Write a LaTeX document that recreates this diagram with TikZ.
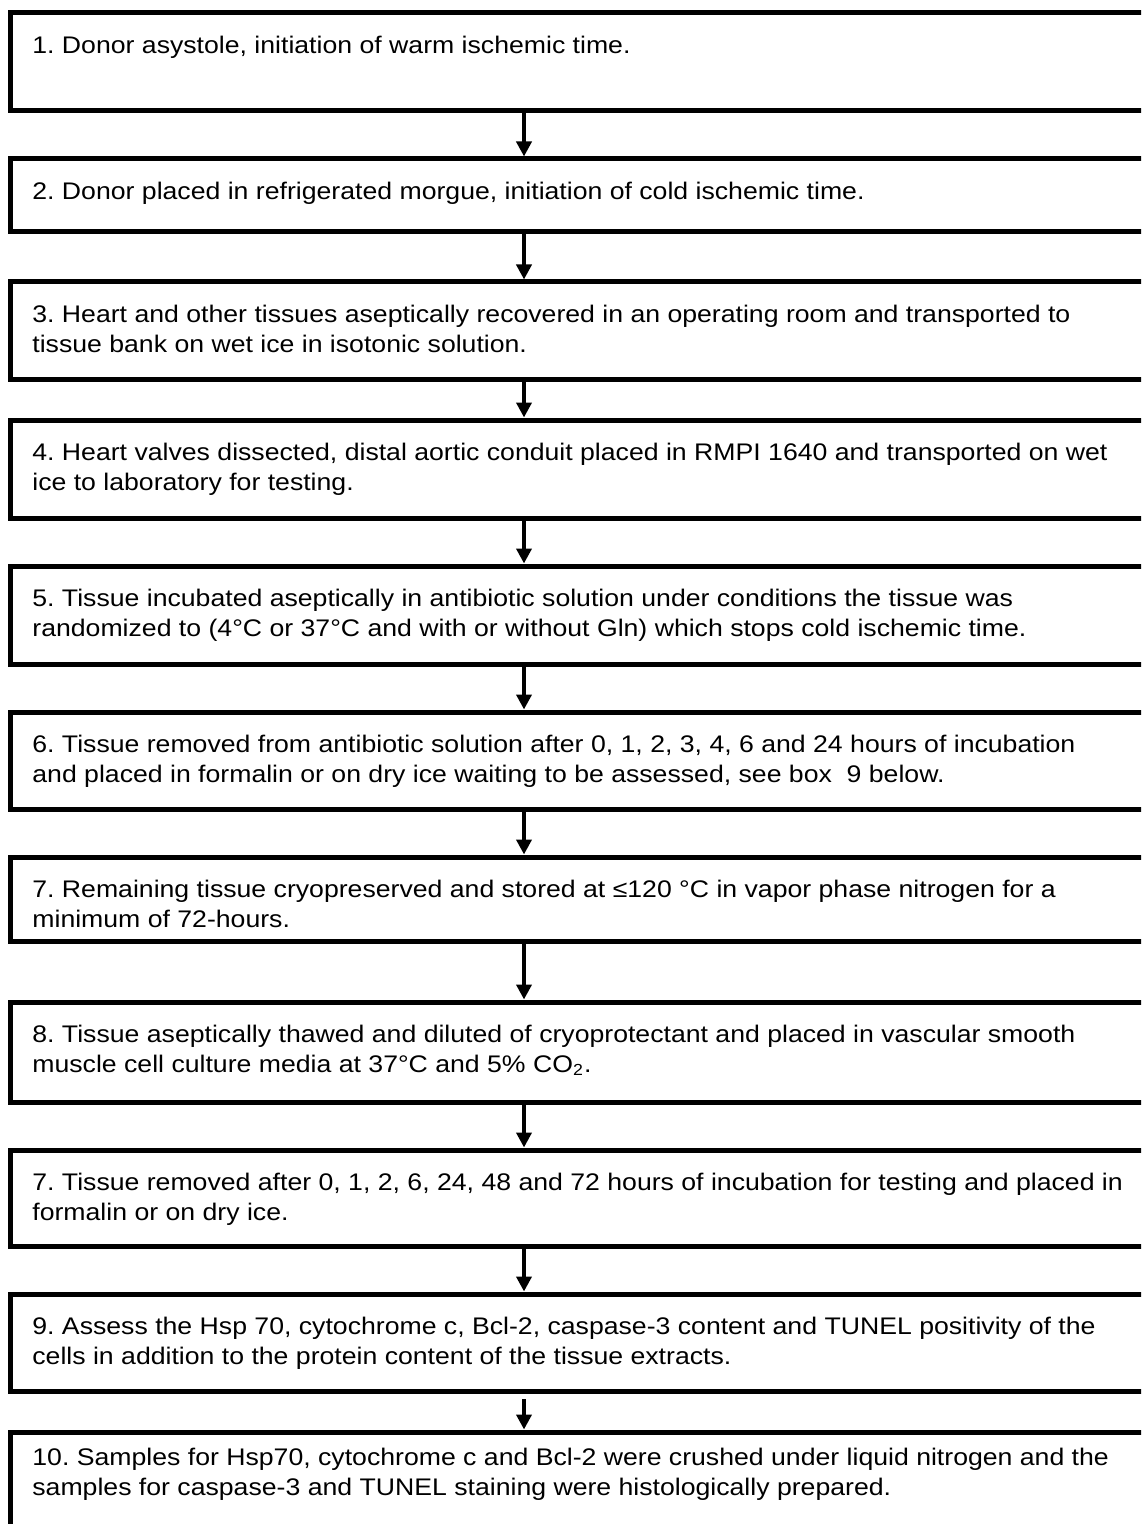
\documentclass[tikz,border=0pt]{standalone}
\usepackage{fontspec}
\setmainfont{Liberation Sans}[FakeStretch=1.11]
\frenchspacing
\usetikzlibrary{arrows.meta}

\begin{document}
\begin{tikzpicture}[x=0.5pt, y=-0.5pt,
    stepbox/.style={draw, line width=2.5pt, anchor=north west, outer sep=0pt,
        inner sep=0pt, minimum width=580pt},
    steptext/.style={anchor=north west, align=left, inner sep=0pt,
        font=\fontsize{12}{15}\selectfont},
    flow/.style={line width=2pt, shorten >=1.25pt,
        -{Triangle[width=7.5pt,length=7.5pt]}}]

    % Page frame (boxes run off the right and bottom edge)
    \path[use as bounding box, clip] (0,0) rectangle (1141,1524);

    % Column of the arrows
    \coordinate (ax) at (524,0);

    % Draw the boxes
    \node[stepbox, minimum height=49pt]   (asystole) at (10,13)   {};
    \node[stepbox, minimum height=36.5pt] (morgue)   at (10,159)  {};
    \node[stepbox, minimum height=48.5pt] (recover)  at (10,282)  {};
    \node[stepbox, minimum height=49pt]   (dissect)  at (10,420)  {};
    \node[stepbox, minimum height=49pt]   (incubate) at (10,566)  {};
    \node[stepbox, minimum height=48.5pt] (remove)   at (10,712)  {};
    \node[stepbox, minimum height=42pt]   (cryo)     at (10,857)  {};
    \node[stepbox, minimum height=50pt]   (thaw)     at (10,1002) {};
    \node[stepbox, minimum height=48pt]   (retest)   at (10,1150) {};
    \node[stepbox, minimum height=48.5pt] (assess)   at (10,1294) {};
    \node[stepbox, minimum height=60pt]   (samples)  at (10,1432) {};

    % Texts of the boxes
    \node[steptext] (asystoletext) at ([xshift=11pt,yshift=-11.25pt]asystole.north west)
        {1. Donor asystole, initiation of warm ischemic time.};
    \node[steptext] (morguetext) at ([xshift=11pt,yshift=-11.25pt]morgue.north west)
        {2. Donor placed in refrigerated morgue, initiation of cold ischemic time.};
    \node[steptext] (recovertext) at ([xshift=11pt,yshift=-11.25pt]recover.north west)
        {3. Heart and other tissues aseptically recovered in an operating room and transported to\\
         tissue bank on wet ice in isotonic solution.};
    \node[steptext] (dissecttext) at ([xshift=11pt,yshift=-11.25pt]dissect.north west)
        {4. Heart valves dissected, distal aortic conduit placed in RMPI 1640 and transported on wet\\
         ice to laboratory for testing.};
    \node[steptext] (incubatetext) at ([xshift=11pt,yshift=-11.25pt]incubate.north west)
        {5. Tissue incubated aseptically in antibiotic solution under conditions the tissue was\\
         randomized to (4°C or 37°C and with or without Gln) which stops cold ischemic time.};
    \node[steptext] (removetext) at ([xshift=11pt,yshift=-11.25pt]remove.north west)
        {6. Tissue removed from antibiotic solution after 0, 1, 2, 3, 4, 6 and 24 hours of incubation\\
         and placed in formalin or on dry ice waiting to be assessed, see box\ \ 9 below.};
    \node[steptext] (cryotext) at ([xshift=11pt,yshift=-11.25pt]cryo.north west)
        {7. Remaining tissue cryopreserved and stored at ≤120 °C in vapor phase nitrogen for a\\
         minimum of 72-hours.};
    \node[steptext] (thawtext) at ([xshift=11pt,yshift=-11.25pt]thaw.north west)
        {8. Tissue aseptically thawed and diluted of cryoprotectant and placed in vascular smooth\\
         muscle cell culture media at 37°C and 5\% CO\textsubscript{2}.};
    \node[steptext] (retesttext) at ([xshift=11pt,yshift=-11.25pt]retest.north west)
        {7. Tissue removed after 0, 1, 2, 6, 24, 48 and 72 hours of incubation for testing and placed in\\
         formalin or on dry ice.};
    \node[steptext] (assesstext) at ([xshift=11pt,yshift=-11.25pt]assess.north west)
        {9. Assess the Hsp 70, cytochrome c, Bcl-2, caspase-3 content and TUNEL positivity of the\\
         cells in addition to the protein content of the tissue extracts.};
    \node[steptext] (samplestext) at ([xshift=11pt,yshift=-8pt]samples.north west)
        {10. Samples for Hsp70, cytochrome c and Bcl-2 were crushed under liquid nitrogen and the\\
         samples for caspase-3 and TUNEL staining were histologically prepared.};

    % Draw the arrows
    \draw[flow] (asystole.south -| ax) -- (morgue.north -| ax);
    \draw[flow] (morgue.south -| ax) -- (recover.north -| ax);
    \draw[flow] (recover.south -| ax) -- (dissect.north -| ax);
    \draw[flow] (dissect.south -| ax) -- (incubate.north -| ax);
    \draw[flow] (incubate.south -| ax) -- (remove.north -| ax);
    \draw[flow] (remove.south -| ax) -- (cryo.north -| ax);
    \draw[flow] (cryo.south -| ax) -- (thaw.north -| ax);
    \draw[flow] (thaw.south -| ax) -- (retest.north -| ax);
    \draw[flow] (retest.south -| ax) -- (assess.north -| ax);
    \draw[flow, shorten <=4pt] (assess.south -| ax) -- (samples.north -| ax);

\end{tikzpicture}
\end{document}
